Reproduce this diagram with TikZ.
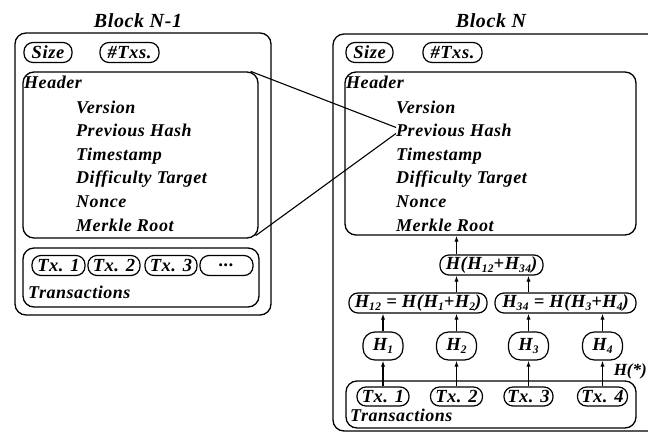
\documentclass[tikz,border=0pt]{standalone}
\usepackage{fontspec}
\setmainfont{Liberation Serif}
\usetikzlibrary{arrows.meta}
\newcommand\hsb[1]{\raisebox{-0.3ex}{\fontsize{11.5}{11.5}\selectfont #1}}
\begin{document}
\begin{tikzpicture}[x=1pt,y=-1pt,
  txt/.style={font=\fontsize{18}{20}\selectfont\bfseries\itshape\addfontfeature{LetterSpace=3}, inner sep=0pt},
  ttl/.style={font=\fontsize{20}{22}\selectfont\bfseries\itshape\addfontfeature{LetterSpace=3}, inner sep=0pt},
  pill/.style={draw, line width=1.2pt, rounded corners=9pt, minimum height=20pt, inner sep=0pt,
    font=\fontsize{18.5}{20}\selectfont\bfseries\itshape\addfontfeature{LetterSpace=3}},
  hpill/.style={pill, minimum height=28pt, minimum width=40pt, rounded corners=12pt},
  box/.style={draw, line width=1.3pt, rounded corners=11pt, inner sep=0pt},
  conn/.style={line width=1.1pt},
  arr/.style={line width=1.1pt, -{Latex[length=6pt,width=4.2pt]}}]
\useasboundingbox (0,0) rectangle (648,432);
\clip (0,0) rectangle (648,432);
\fill[white] (0,0) rectangle (648,432);

% ---------- Block N-1 ----------
\node[box, minimum width=256pt, minimum height=282pt] (lblk) at (143,174) {};
\node[ttl, anchor=base] (lttl) at (138,27) {Block N-1};
\node[pill, minimum width=48pt] (lsize) at (48,52.5) {Size};
\node[pill, minimum width=59pt] (ltxs) at (129.5,52.5) {\#Txs.};
\node[box, minimum width=235pt, minimum height=166pt] (lhdr) at (140.5,155) {};
\node[txt, anchor=base west] (lhead) at (24,88.5) {Header};
\node[txt, anchor=base west] (lver) at (76,113) {Version};
\node[txt, anchor=base west] (lph) at (76,136.6) {Previous Hash};
\node[txt, anchor=base west] (lts) at (76,160.2) {Timestamp};
\node[txt, anchor=base west] (ldt) at (76,183.8) {Difficulty Target};
\node[txt, anchor=base west] (lno) at (76,207.4) {Nonce};
\node[txt, anchor=base west] (lmr) at (76,231) {Merkle Root};
\node[box, minimum width=236pt, minimum height=59pt] (ltrx) at (141,277.5) {};
\node[pill, minimum width=53pt] (ltx1) at (58.5,265.5) {Tx. 1};
\node[pill, minimum width=52pt] (ltx2) at (114,265.5) {Tx. 2};
\node[pill, minimum width=52pt] (ltx3) at (171,265.5) {Tx. 3};
\node[pill, minimum width=53pt] (ltx4) at (226.5,265.5) {...};
\node[txt, anchor=base west] (ltrl) at (28,298) {Transactions};

% ---------- Block N ----------
\node[box, minimum width=367pt, minimum height=397pt] (rblk) at (516.5,232.5) {};
\node[ttl, anchor=base] (rttl) at (491,27) {Block N};
\node[pill, minimum width=47pt] (rsize) at (369.5,52.5) {Size};
\node[pill, minimum width=59pt] (rtxs) at (452.5,52.5) {\#Txs.};
\node[box, minimum width=291pt, minimum height=163pt] (rhdr) at (490.5,153.5) {};
\node[txt, anchor=base west] (rhead) at (346,88.5) {Header};
\node[txt, anchor=base west] (rver) at (396,113) {Version};
\node[txt, anchor=base west] (rph) at (396,136.6) {Previous Hash};
\node[txt, anchor=base west] (rts) at (396,160.2) {Timestamp};
\node[txt, anchor=base west] (rdt) at (396,183.8) {Difficulty Target};
\node[txt, anchor=base west] (rno) at (396,207.4) {Nonce};
\node[txt, anchor=base west] (rmr) at (396,231) {Merkle Root};

\node[pill, minimum width=103pt] (hroot) at (491.5,265) {H(H\hsb{12}+H\hsb{34})};
\node[pill, minimum width=138pt] (h12) at (418,303) {H\hsb{12} = H(H\hsb{1}+H\hsb{2})};
\node[pill, minimum width=141pt] (h34) at (565.5,303) {H\hsb{34} = H(H\hsb{3}+H\hsb{4})};
\node[hpill] (h1) at (383,346) {H\hsb{1}};
\node[hpill] (h2) at (456.5,346) {H\hsb{2}};
\node[hpill] (h3) at (528.5,346) {H\hsb{3}};
\node[hpill] (h4) at (602.5,346) {H\hsb{4}};

\node[box, minimum width=290pt, minimum height=47pt] (rtrx) at (491,404.5) {};
\node[pill, minimum width=52pt, minimum height=19pt] (rtx1) at (383,396.5) {Tx. 1};
\node[pill, minimum width=52pt, minimum height=19pt] (rtx2) at (456.5,396.5) {Tx. 2};
\node[pill, minimum width=49pt, minimum height=19pt] (rtx3) at (528.5,396.5) {Tx. 3};
\node[pill, minimum width=50pt, minimum height=19pt] (rtx4) at (602.5,396.5) {Tx. 4};
\node[txt, anchor=base west] (rtrl) at (350,421) {Transactions};
\node[font=\fontsize{17}{18}\selectfont\bfseries\itshape, inner sep=0pt, anchor=base east] (hstar) at (647,375) {H(*)};

% ---------- connectors ----------
\draw[conn] ([xshift=-8pt]lhdr.north east) -- ([yshift=3pt]rph.west);
\draw[conn] ([xshift=-3pt,yshift=3pt]lhdr.south east) -- ([yshift=-3pt]rph.west);

\draw[arr] (rtx1) -- (h1);
\draw[arr] (rtx2) -- (h2);
\draw[arr] (rtx3) -- (h3);
\draw[arr] (rtx4) -- (h4);
\draw[arr] (h1.north) -- (h1.north |- h12.south);
\draw[arr] (h2.north) -- (h2.north |- h12.south);
\draw[arr] (h3.north) -- (h3.north |- h34.south);
\draw[arr] (h4.north) -- (h4.north |- h34.south);
\draw[arr] (h12.north -| h2) -- (h2 |- hroot.south);
\draw[arr] (h34.north -| h3) -- (h3 |- hroot.south);
\draw[arr] (hroot.north -| h2) -- (h2 |- rhdr.south);
\end{tikzpicture}
\end{document}
